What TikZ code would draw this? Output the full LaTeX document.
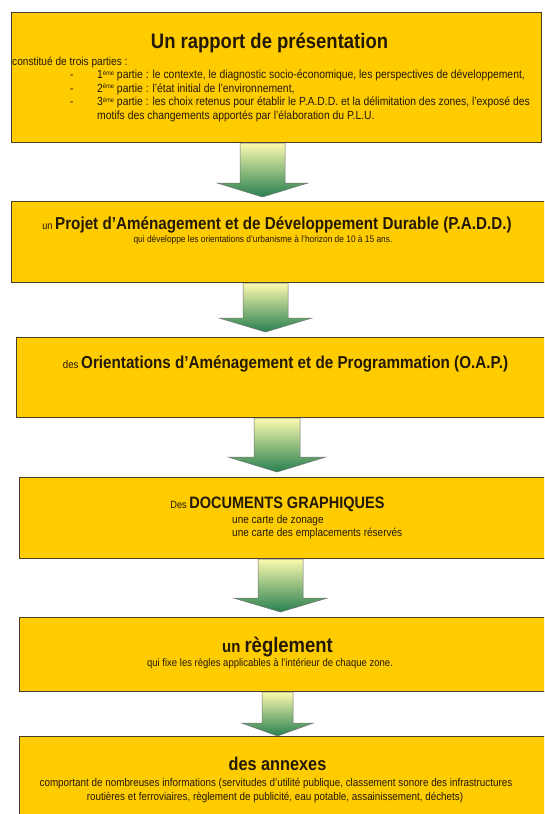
\documentclass[tikz,border=0pt]{standalone}
\usepackage{fontspec}
\setmainfont{Liberation Sans}[FakeStretch=0.88]
\usetikzlibrary{calc}
\definecolor{boxfill}{RGB}{255,204,0}
\definecolor{boxline}{RGB}{70,60,40}
\definecolor{txtc}{RGB}{35,25,5}
\definecolor{arrtop}{RGB}{252,250,175}
\definecolor{arrbot}{RGB}{40,128,80}
\newcommand\fsz[1]{\fontsize{#1}{#1}\selectfont}
\newcommand\sptxt[1]{\raisebox{3.2pt}{\fsz{6.5}#1}}
% #1 from box, #2 to box, #3 centre x, #4 shaft half width, #5 head half width, #6 head length, #7 gap
\newcommand\blockarrow[7]{%
  \shade[arr] (#3-#4,0 |- #1.south) -- (#3+#4,0 |- #1.south)
    -- ($(#3+#4,0 |- #2.north)+(0,-#6-#7)$) -- ($(#3+#5,0 |- #2.north)+(0,-#6-#7)$)
    -- ($(#3,0 |- #2.north)+(0,-#7)$)
    -- ($(#3-#5,0 |- #2.north)+(0,-#6-#7)$) -- ($(#3-#4,0 |- #2.north)+(0,-#6-#7)$) -- cycle;}
\tikzset{
  box/.style={draw=boxline, line width=1.1pt, fill=boxfill, anchor=north west, inner sep=0pt},
  arr/.style={top color=arrtop, bottom color=arrbot, draw=black!55, line width=0.5pt},
  txt/.style={inner sep=0pt, text=txtc}
}
\begin{document}
\begin{tikzpicture}[x=1pt,y=-1pt]
\useasboundingbox (0,0) rectangle (544,814);
\clip (0,0) rectangle (544,814);
\fill[white] (0,0) rectangle (544,814);
% boxes
\node[box, minimum width=530pt, minimum height=130pt] (b1) at (11,12) {};
\node[box, minimum width=600pt, minimum height=81pt] (b2) at (11,201) {};
\node[box, minimum width=600pt, minimum height=80pt] (b3) at (16,337) {};
\node[box, minimum width=600pt, minimum height=81pt] (b4) at (19,477) {};
\node[box, minimum width=600pt, minimum height=74pt] (b5) at (19,617) {};
\node[box, minimum width=600pt, minimum height=100pt] (b6) at (19,736) {};
% arrows
\blockarrow{b1}{b2}{262.5}{22.5}{45.5}{14}{4}
\blockarrow{b2}{b3}{265.5}{22.5}{46.5}{14}{5}
\blockarrow{b3}{b4}{277}{23}{49}{15}{5}
\blockarrow{b4}{b5}{280.5}{22.5}{47}{14}{5}
\blockarrow{b5}{b6}{277.5}{15.5}{36}{13}{0}
% box 1
\node[txt, anchor=base] (t1) at (269.5,48) {\fsz{21}\bfseries Un rapport de présentation};
\node[txt, anchor=base west] (l0) at (12,65) {\fsz{11.5}constitué de trois parties :};
\node[txt, anchor=base west] (d1) at (70,78.5) {\fsz{11.5}-};
\node[txt, anchor=base west] (d2) at (70,92) {\fsz{11.5}-};
\node[txt, anchor=base west] (d3) at (70,105.5) {\fsz{11.5}-};
\node[txt, anchor=base west] (l1) at (97,78.5) {\fsz{11.8}1\sptxt{ème} partie : le contexte, le diagnostic socio-économique, les perspectives de développement,};
\node[txt, anchor=base west] (l2) at (97,92) {\fsz{11.8}2\sptxt{ème} partie : l'état initial de l'environnement,};
\node[txt, anchor=base west] (l3) at (97,105.5) {\fsz{11.8}3\sptxt{ème} partie : les choix retenus pour établir le P.A.D.D. et la délimitation des zones, l'exposé des};
\node[txt, anchor=base west] (l4) at (97,119) {\fsz{11.8}motifs des changements apportés par l'élaboration du P.L.U.};
% box 2
\node[txt, anchor=base] (t2) at (277,229) {\fsz{10.5}un \fsz{17.3}\bfseries Projet d’Aménagement et de Développement Durable (P.A.D.D.)};
\node[txt, anchor=base] (s2) at (263,242) {\fsz{9.5}qui développe les orientations d'urbanisme à l'horizon de 10 à 15 ans.};
% box 3
\node[txt, anchor=base] (t3) at (285.5,368) {\fsz{11}des \fsz{17.3}\bfseries Orientations d’Aménagement et de Programmation (O.A.P.)};
% box 4
\node[txt, anchor=base] (t4) at (277.5,508) {\fsz{10.5}Des \fsz{16.5}\bfseries DOCUMENTS GRAPHIQUES};
\node[txt, anchor=base west] (s4a) at (232,523) {\fsz{11.4}une carte de zonage};
\node[txt, anchor=base west] (s4b) at (232,536) {\fsz{11.4}une carte des emplacements réservés};
% box 5
\node[txt, anchor=base] (t5) at (277.5,652) {\fsz{17}\bfseries un \fsz{21}règlement};
\node[txt, anchor=base] (s5) at (270,666) {\fsz{10.8}qui fixe les règles applicables à l'intérieur de chaque zone.};
% box 6
\node[txt, anchor=base] (t6) at (277.5,770) {\fsz{18.5}\bfseries des annexes};
\node[txt, anchor=base] (s6a) at (276,786) {\fsz{11.2}comportant de nombreuses informations (servitudes d'utilité publique, classement sonore des infrastructures};
\node[txt, anchor=base] (s6b) at (275,800) {\fsz{11.2}routières et ferroviaires, règlement de publicité, eau potable, assainissement, déchets)};
\end{tikzpicture}
\end{document}
